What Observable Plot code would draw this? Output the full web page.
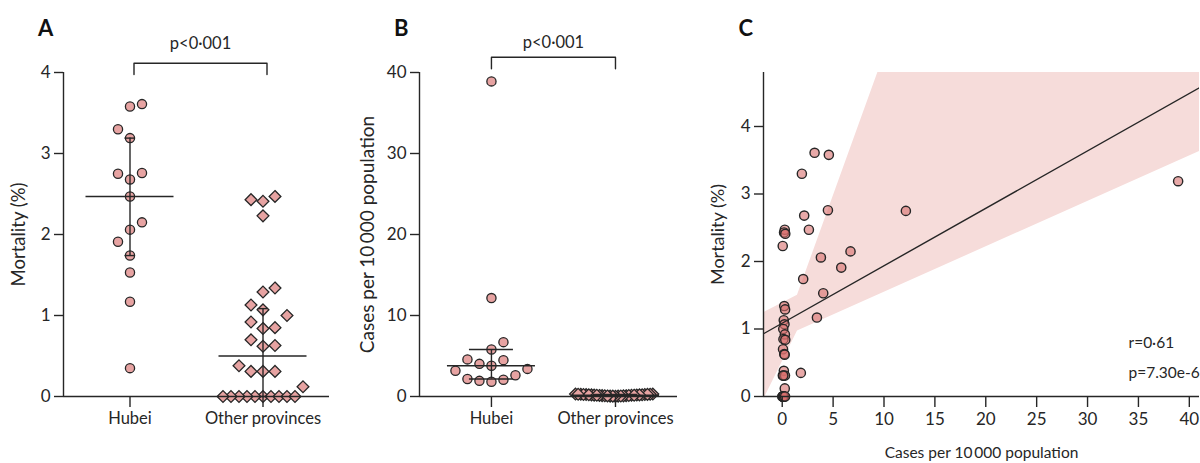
<!DOCTYPE html>
<html><head><meta charset="utf-8">
<script src="https://cdn.jsdelivr.net/npm/d3@7"></script>
<script src="https://cdn.jsdelivr.net/npm/@observablehq/plot@0.6"></script>
<style>
html,body{margin:0;padding:0;background:#fff;}
#wrap{position:relative;width:1200px;height:463px;overflow:hidden;}
#wrap svg{position:absolute;top:0;overflow:visible;}
</style></head>
<body><div id="wrap"></div>
<script>
// ---------------- data ----------------
const groups = ["Hubei", "Other provinces"];
// Hubei cities: mortality (%) and cases per 10 000 population (paired)
const hubeiMortality = [3.19, 2.75, 2.15, 1.91, 3.58, 2.76, 1.53, 2.06, 1.17, 3.61, 2.47, 2.68, 1.74, 3.30, 0.35];
const hubeiCases     = [38.9, 12.15, 6.71, 5.80, 4.58, 4.49, 4.03, 3.80, 3.41, 3.18, 2.62, 2.16, 2.06, 1.93, 1.83];
// Other provinces: mortality (%) and cases per 10 000 population (paired)
const otherMortality = [2.47, 2.43, 2.41, 2.23, 1.34, 1.29, 1.13, 1.07, 1.00, 0.92, 0.85, 0.84, 0.70, 0.63, 0.62, 0.38, 0.31, 0.31, 0.31, 0.12, 0, 0, 0, 0, 0, 0, 0, 0, 0, 0];
const otherCases     = [0.25, 0.18, 0.30, 0.05, 0.20, 0.28, 0.15, 0.22, 0.10, 0.26, 0.12, 0.30, 0.08, 0.20, 0.24, 0.16, 0.06, 0.27, 0.11, 0.25, 0.02, 0.05, 0.09, 0.13, 0.17, 0.21, 0.04, 0.07, 0.15, 0.28];
const yTicksA = [0, 1, 2, 3, 4];
const yTicksB = [0, 10, 20, 30, 40];
const yTicksC = [0, 1, 2, 3, 4];
const xTicksC = [0, 5, 10, 15, 20, 25, 30, 35, 40];
// regression fit and its confidence band (panel C)
const fitIntercept = 1.086;
const fitSlope = 0.0851;
const bandX  = [-1.84, 1.5, 41];
const bandLo = [-0.05, 0.97, 3.63];
const bandHi = [1.24, 1.50, 18.0];
const pLabel = "p<0\u00b7001";
const statLines = ["r=0\u00b761", "p=7.30e-6"];
const labelMort = "Mortality (%)";
const labelCases = "Cases per 10\u2009000 population";
const panelLetters = ["A", "B", "C"];

// ---------------- styling ----------------
const FONT = 'Lato,"Liberation Sans",sans-serif';
const FS_TICK = 17, FS_CAT = 16.5;
const INK = "#262626";
const PINK = "#e7a3a2";
const H = 463, MT = 72, MB = 67;
const wrap = document.getElementById("wrap");

// Prism-like quartile (R-6)
function q6(arr, p) {
  const s = [...arr].sort((a, b) => a - b), n = s.length;
  const h = (n + 1) * p - 1;
  if (h <= 0) return s[0];
  if (h >= n - 1) return s[n - 1];
  const lo = Math.floor(h);
  return s[lo] + (h - lo) * (s[lo + 1] - s[lo]);
}

// grid beeswarm: returns pixel x-offsets
function swarm(values, pyUnit, T, slot, maxHalf) {
  const order = d3.range(values.length).sort((a, b) => values[a] - values[b] || a - b);
  const placed = [];
  const res = new Array(values.length);
  let toggle = -1;
  for (const i of order) {
    const v = values[i];
    const blocked = k => placed.some(p => p.k === k && Math.abs(p.v - v) * pyUnit < T);
    let k = 0;
    if (blocked(0)) {
      for (let m = 1; m < 200; m++) {
        if (!blocked(toggle * m)) { k = toggle * m; break; }
        if (!blocked(-toggle * m)) { k = -toggle * m; break; }
      }
      toggle = -Math.sign(k);
    }
    let anchor = i;
    if (k !== 0) {
      let best = Infinity;
      for (const p of placed) if (p.k === 0) {
        const dy = Math.abs(p.v - v) * pyUnit;
        if (dy < T && dy < best) { best = dy; anchor = p.anchor; }
      }
    }
    const rec = {i, v, k, anchor};
    placed.push(rec);
    res[i] = rec;
  }
  const maxK = d3.rollup(res, g => d3.max(g, r => Math.abs(r.k)), r => r.anchor);
  return res.map(r => {
    const m = maxK.get(r.anchor) || 0;
    const f = m ? Math.min(1, maxHalf / (m * slot)) : 1;
    return r.k * slot * f;
  });
}

function mount(svg, left) { svg.style.left = left + "px"; wrap.append(svg); }

const axisStyle = {color: INK, strokeWidth: 1.4, label: null};
const letterStyle = {fontSize: 22, fontWeight: "bold", fill: "#111", fontFamily: FONT, textAnchor: "start", lineAnchor: "middle"};
const yLabelStyle = {frameAnchor: "left", rotate: -90, textAnchor: "middle", lineAnchor: "middle", fill: INK};

// ---------------- panel builder for A & B ----------------
function stripPanel({left, width, ml, mr, xDom, yDom, yTicks, hub, oth, yLabel, labelDx, labelFs, letter, capHalf, bracketTop, bracketBot, bracketDx, pBase}) {
  const pxX = (width - ml - mr) / (xDom[1] - xDom[0]);
  const pyY = (H - MT - MB) / (yDom[1] - yDom[0]);
  const offH = swarm(hub, pyY, 14.2, 12, 39);
  const offO = swarm(oth, pyY, 14.2, 12, 40);
  const ptsH = hub.map((v, j) => ({x: 0 + offH[j] / pxX, y: v}));
  const ptsO = oth.map((v, j) => ({x: 1 + offO[j] / pxX, y: v}));
  const stats = [hub, oth].map((v, i) => ({i, med: q6(v, 0.5), q1: q6(v, 0.25), q3: q6(v, 0.75)}));
  const caps = stats.flatMap(d => [{i: d.i, y: d.q1}, {i: d.i, y: d.q3}]);
  const medHalf = 44 / pxX, capH = capHalf / pxX;
  const yTop = yDom[1];
  const toY = px => yTop + (MT - px) / pyY;   // pixel row -> data value
  const bracket = [
    {x: 0, y: toY(bracketBot)}, {x: 0, y: toY(bracketTop)},
    {x: 1, y: toY(bracketTop)}, {x: 1, y: toY(bracketBot)}
  ];
  const svg = Plot.plot({
    width, height: H, marginLeft: ml, marginRight: mr, marginTop: MT, marginBottom: MB,
    x: {domain: xDom},
    y: {domain: yDom},
    style: {fontFamily: FONT, fontSize: FS_TICK + "px", color: INK, background: "transparent"},
    marks: [
      Plot.dot(ptsH, {x: "x", y: "y", r: 4.6, fill: PINK, stroke: INK, strokeWidth: 1.3}),
      Plot.dot(ptsO, {x: "x", y: "y", r: 5.3, symbol: "diamond2", fill: PINK, stroke: INK, strokeWidth: 1.3}),
      Plot.ruleY(stats, {y: "med", x1: d => d.i - medHalf, x2: d => d.i + medHalf, stroke: INK, strokeWidth: 1.5}),
      Plot.ruleX(stats, {x: "i", y1: "q1", y2: "q3", stroke: INK, strokeWidth: 1.4}),
      Plot.ruleY(caps, {y: "y", x1: d => d.i - capH, x2: d => d.i + capH, stroke: INK, strokeWidth: 1.4}),
      Plot.ruleX([xDom[0]], {stroke: INK, strokeWidth: 1.4}),
      Plot.ruleY([yDom[0]], {stroke: INK, strokeWidth: 1.4}),
      Plot.axisY({...axisStyle, ticks: yTicks, tickFormat: d => String(d), tickSize: 9, tickPadding: 4, fontSize: FS_TICK}),
      Plot.axisX({...axisStyle, ticks: [0, 1], tickFormat: i => groups[i], tickSize: 11, tickPadding: 5, fontSize: FS_CAT}),
      Plot.line(bracket, {x: "x", y: "y", stroke: INK, strokeWidth: 1.4, dx: bracketDx}),
      Plot.text([pLabel], {x: 0.5, y: toY(pBase - 0.32 * 16.5), text: d => d, fontSize: 16.5, lineAnchor: "middle", fill: INK, dx: bracketDx}),
      Plot.text([yLabel], {...yLabelStyle, dx: labelDx, text: d => d, fontSize: labelFs}),
      Plot.text([letter], {frameAnchor: "top-left", dx: -25.5, dy: -44, text: d => d, ...letterStyle})
    ]
  });
  mount(svg, left);
}

// Panel A
stripPanel({left: 0, width: 340, ml: 63, mr: 11, xDom: [-0.5, 1.5], yDom: [0, 4], yTicks: yTicksA,
  hub: hubeiMortality, oth: otherMortality, yLabel: labelMort, labelDx: -44, labelFs: 18.5, letter: panelLetters[0],
  capHalf: 5, bracketTop: 62.7, bracketBot: 74, bracketDx: 4, pBase: 48});

// Panel B
stripPanel({left: 340, width: 360, ml: 79, mr: 23, xDom: [-0.58, 1.5], yDom: [0, 40], yTicks: yTicksB,
  hub: hubeiCases, oth: otherCases, yLabel: labelCases, labelDx: -52, labelFs: 19, letter: panelLetters[1],
  capHalf: 22, bracketTop: 56.7, bracketBot: 68.3, bracketDx: 0, pBase: 47});

// Panel C
{
  const xDom = [-1.84, 41], yDom = [0, 4.8];
  const pts = [
    ...hubeiCases.map((c, j) => ({x: c, y: hubeiMortality[j]})),
    ...otherCases.map((c, j) => ({x: c, y: otherMortality[j]}))
  ];
  const band = bandX.map((x, j) => ({x, lo: bandLo[j], hi: bandHi[j]}));
  const fit = xDom.map(x => ({x, y: fitIntercept + fitSlope * x}));
  const statStyle = {frameAnchor: "bottom-right", textAnchor: "start", lineAnchor: "middle", dx: -71, fontSize: 15.5, fill: INK};
  const svg = Plot.plot({
    width: 500, height: H, marginLeft: 63, marginRight: 1, marginTop: MT, marginBottom: MB,
    x: {domain: xDom},
    y: {domain: yDom},
    style: {fontFamily: FONT, fontSize: FS_TICK + "px", color: INK, background: "transparent"},
    marks: [
      Plot.areaY(band, {x: "x", y1: "lo", y2: "hi", fill: "#f6dcda", clip: true}),
      Plot.dot(pts, {x: "x", y: "y", r: 4.6, fill: "#d9706e", fillOpacity: 0.6, stroke: INK, strokeWidth: 1.4}),
      Plot.line(fit, {x: "x", y: "y", stroke: INK, strokeWidth: 1.4, clip: true}),
      Plot.ruleX([xDom[0]], {stroke: INK, strokeWidth: 1.4}),
      Plot.ruleY([yDom[0]], {stroke: INK, strokeWidth: 1.4}),
      Plot.axisY({...axisStyle, ticks: yTicksC, tickFormat: d => String(d), tickSize: 9, tickPadding: 4, fontSize: FS_TICK}),
      Plot.axisX({...axisStyle, ticks: xTicksC, tickFormat: d => String(d), tickSize: 11, tickPadding: 5, fontSize: FS_TICK}),
      Plot.text([labelMort], {...yLabelStyle, dx: -45, text: d => d, fontSize: 18}),
      Plot.text([labelCases], {frameAnchor: "bottom", lineAnchor: "middle", textAnchor: "middle", dy: 57, text: d => d, fontSize: 15.5, fill: INK}),
      Plot.text([statLines[0]], {...statStyle, dy: -53, text: d => d}),
      Plot.text([statLines[1]], {...statStyle, dy: -23, text: d => d}),
      Plot.text([panelLetters[2]], {frameAnchor: "top-left", dx: -25, dy: -44, text: d => d, ...letterStyle})
    ]
  });
  mount(svg, 700);
}
</script>
</body></html>
